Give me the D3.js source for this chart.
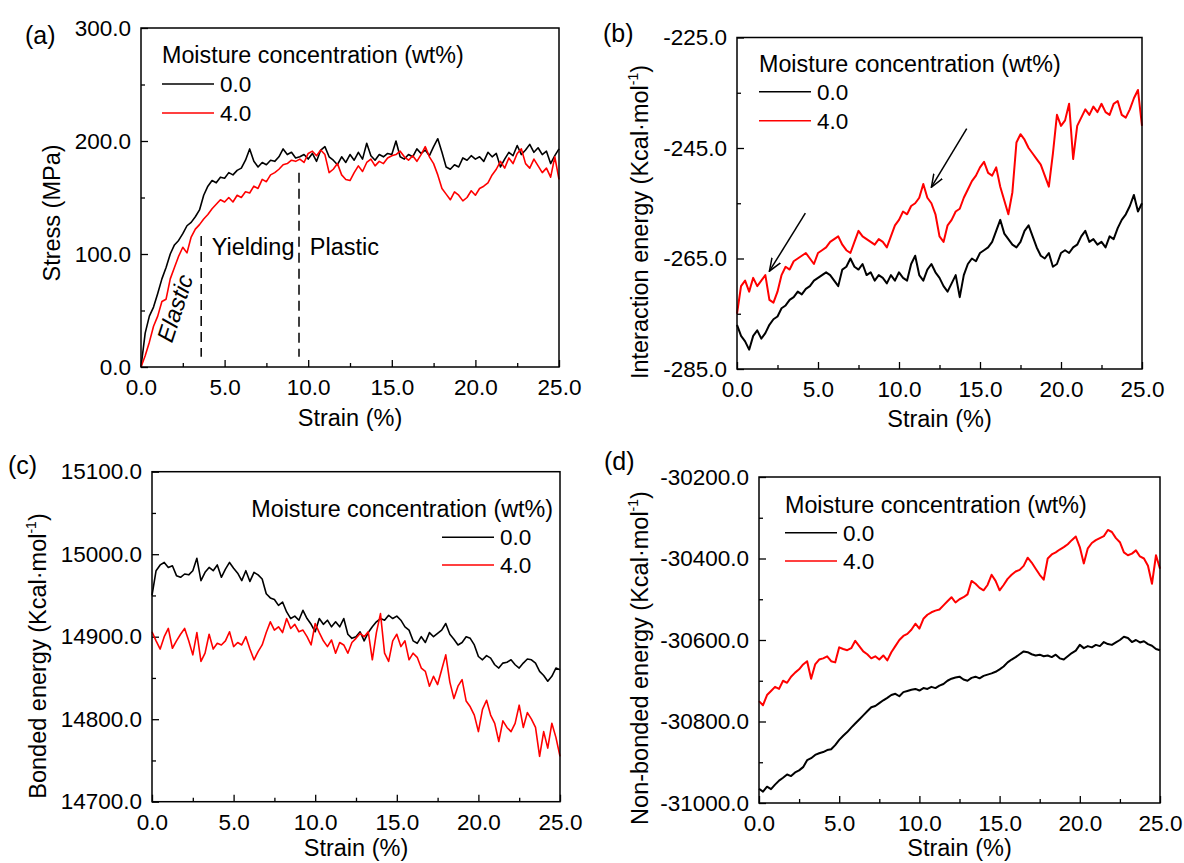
<!DOCTYPE html>
<html>
<head>
<meta charset="utf-8">
<script src="https://cdn.jsdelivr.net/npm/d3@7"></script>
<style>
  body { margin: 0; background: #fff; }
  text { font-family: Arial, "Liberation Sans", sans-serif; }
</style>
</head>
<body>
<div id="chart"></div>
<script>
// strain grid (%), one sample every 0.25
const strain = d3.range(0, 101).map((i) => i * 0.25);

// (a) stress (MPa)
const stressDry = [0, 30, 45, 53, 65, 78, 88, 100, 108, 112, 118, 125, 128, 133, 139, 152, 160, 165, 163, 168,
  167, 172, 170, 174, 176, 183, 193, 182, 177, 181, 179, 183, 182, 186, 193, 188, 190, 185, 186, 188,
  184, 189, 182, 192, 195, 186, 183, 179, 186, 181, 188, 183, 190, 184, 198, 187, 183, 188, 186, 189,
  188, 200, 186, 184, 188, 186, 193, 189, 192, 187, 195, 202, 190, 177, 175, 179, 177, 185, 183, 187,
  184, 186, 182, 190, 186, 189, 177, 184, 190, 187, 196, 188, 192, 197, 190, 194, 188, 191, 180, 187, 193];
const stressWet = [0, 10, 22, 36, 45, 58, 60, 78, 88, 98, 106, 101, 115, 122, 126, 131, 135, 140, 144, 148,
  146, 150, 146, 152, 150, 155, 154, 160, 158, 166, 164, 170, 172, 175, 179, 180, 183, 182, 184, 181,
  189, 191, 187, 192, 188, 172, 175, 180, 170, 166, 165, 172, 178, 173, 181, 184, 178, 182, 180, 185,
  187, 188, 191, 186, 183, 187, 182, 188, 195, 186, 180, 170, 158, 153, 148, 155, 152, 147, 150, 156,
  152, 158, 160, 163, 170, 175, 182, 176, 185, 180, 189, 193, 180, 176, 184, 178, 172, 176, 168, 186, 166];

// (b) interaction energy (Kcal/mol)
const interDry = [-277, -279, -280, -281.5, -279, -278, -279.5, -278.5, -277, -276, -275.5, -274, -273.5, -272.5, -272, -271, -271.5, -270.5, -270, -269,
  -268.5, -268, -267.5, -268, -269, -270, -267, -266.5, -265, -266.5, -267, -266, -268, -267.5, -269, -268, -268.5, -269.5, -268, -269,
  -267.5, -268.5, -269, -266, -264.5, -268, -269, -267, -266, -267.5, -268.5, -270, -271, -269.5, -268, -272, -268, -266, -265, -265.5,
  -264, -263.5, -263, -262, -260, -258, -260.5, -261.5, -262.5, -263, -262, -260, -259, -261, -263, -264.5, -265, -264, -266.5, -266,
  -264, -263.5, -264, -263, -262.5, -261, -260, -262, -261.5, -262.5, -262, -263, -261, -261.5, -259.5, -258, -257, -255.5, -253.5, -256.5, -255];
const interWet = [-275, -270, -269, -271, -268.5, -270, -269, -268, -272.5, -273, -271, -268, -266.5, -267, -265.5, -265, -264.5, -264, -265, -266,
  -264, -263.5, -263, -262, -261.5, -261, -262.5, -263.5, -264, -262, -260, -261, -261.5, -262, -262.5, -261.5, -262, -263, -261, -259,
  -258, -256.5, -257, -255.5, -255, -254, -251.5, -254, -255, -257, -261, -262, -259, -258, -256.5, -256, -254, -252.5, -251, -250,
  -248.5, -247.5, -249.5, -250, -248.5, -252, -254.5, -257, -253, -244, -242.5, -243.5, -245, -246, -247, -248, -250, -252, -246, -239,
  -241, -240, -237, -247, -241, -239.5, -238, -239, -237.5, -238.5, -237, -238.5, -239, -237, -236.5, -239, -239.5, -238, -236, -234.5, -241];

// (c) bonded energy (Kcal/mol)
const bondDry = [14950, 14980, 14987, 14990, 14984, 14986, 14974, 14972, 14976, 14975, 14980, 14995, 14968, 14978, 14984, 14980, 14987, 14972, 14982, 14990,
  14983, 14977, 14968, 14980, 14967, 14978, 14975, 14970, 14952, 14947, 14945, 14938, 14942, 14930, 14922, 14925, 14920, 14932, 14922, 14915,
  14906, 14922, 14915, 14920, 14912, 14918, 14912, 14922, 14903, 14898, 14900, 14906, 14895, 14905, 14912, 14918, 14922, 14920, 14926, 14922,
  14925, 14920, 14912, 14908, 14895, 14892, 14900, 14893, 14905, 14900, 14904, 14908, 14916, 14903, 14897, 14890, 14893, 14900, 14898, 14890,
  14876, 14872, 14877, 14874, 14866, 14862, 14868, 14869, 14872, 14866, 14862, 14868, 14873, 14872, 14868, 14858, 14853, 14846, 14852, 14862, 14860];
const bondWet = [14906, 14895, 14885, 14900, 14910, 14886, 14895, 14903, 14910, 14895, 14878, 14905, 14870, 14880, 14903, 14885, 14892, 14890, 14895, 14906,
  14888, 14893, 14890, 14900, 14885, 14872, 14882, 14890, 14905, 14918, 14908, 14912, 14905, 14922, 14910, 14915, 14906, 14908, 14900, 14890,
  14916, 14905, 14895, 14888, 14896, 14880, 14893, 14890, 14880, 14893, 14898, 14904, 14900, 14906, 14872, 14905, 14928, 14880, 14870, 14895,
  14903, 14888, 14895, 14872, 14880, 14875, 14862, 14858, 14840, 14852, 14842, 14860, 14878, 14845, 14825, 14840, 14848, 14822, 14815, 14805,
  14785, 14812, 14823, 14805, 14795, 14773, 14798, 14790, 14785, 14795, 14817, 14790, 14808, 14800, 14790, 14755, 14785, 14765, 14795, 14778, 14755];

// (d) non-bonded energy (Kcal/mol)
const nonbondDry = [-30965, -30972, -30960, -30966, -30955, -30945, -30938, -30930, -30934, -30925, -30920, -30912, -30895, -30890, -30882, -30878, -30875, -30870, -30868, -30858,
  -30845, -30835, -30826, -30815, -30805, -30795, -30785, -30775, -30765, -30762, -30755, -30748, -30742, -30735, -30732, -30738, -30728, -30725, -30722, -30720,
  -30724, -30718, -30720, -30715, -30718, -30712, -30708, -30700, -30695, -30692, -30690, -30697, -30700, -30693, -30690, -30694, -30688, -30685, -30682, -30678,
  -30672, -30665, -30655, -30648, -30642, -30635, -30628, -30630, -30635, -30638, -30636, -30640, -30638, -30642, -30636, -30645, -30648, -30640, -30632, -30626,
  -30612, -30620, -30615, -30618, -30612, -30615, -30605, -30610, -30612, -30606, -30600, -30592, -30595, -30605, -30600, -30606, -30603, -30610, -30614, -30622, -30625];
const nonbondWet = [-30750, -30760, -30735, -30725, -30715, -30720, -30700, -30705, -30690, -30680, -30672, -30660, -30652, -30695, -30660, -30648, -30645, -30640, -30652, -30655,
  -30618, -30622, -30625, -30620, -30602, -30615, -30628, -30635, -30645, -30640, -30648, -30638, -30650, -30630, -30615, -30600, -30590, -30585, -30575, -30560,
  -30572, -30548, -30538, -30532, -30528, -30525, -30515, -30505, -30495, -30508, -30500, -30495, -30488, -30455, -30462, -30472, -30478, -30465, -30440, -30455,
  -30478, -30465, -30450, -30440, -30432, -30428, -30418, -30398, -30410, -30425, -30440, -30452, -30400, -30390, -30385, -30378, -30372, -30365, -30355, -30346,
  -30372, -30412, -30375, -30362, -30355, -30350, -30345, -30330, -30335, -30350, -30360, -30385, -30392, -30388, -30380, -30395, -30400, -30418, -30462, -30392, -30425];

const xMajor = [0, 5, 10, 15, 20, 25];
const xMinor = [2.5, 7.5, 12.5, 17.5, 22.5];
const seriesNames = ["0.0", "4.0"];
const seriesColors = ["#000000", "#ff0000"];

const width = 1184;
const height = 863;
const fmt = (d) => d.toFixed(1);

let svg = d3
  .select("#chart")
  .append("svg")
  .attr("width", width)
  .attr("height", height)
  .style("background-color", "white");

svg
  .append("defs")
  .append("marker")
  .attr("id", "arrow")
  .attr("markerUnits", "userSpaceOnUse")
  .attr("viewBox", "0 -7 14 14")
  .attr("refX", 13)
  .attr("refY", 0)
  .attr("markerWidth", 14)
  .attr("markerHeight", 14)
  .attr("orient", "auto")
  .append("path")
  .attr("d", "M0,-5L13,0L0,5")
  .attr("fill", "none")
  .attr("stroke", "black")
  .attr("stroke-width", 1.5);

const panels = [
  {
    label: "(a)", labelX: 25, labelY: 44,
    left: 141, right: 559, top: 28, bottom: 367, lineWidth: 1.6,
    yDomain: [0, 300], yMajor: [0, 100, 200, 300], yMinor: [50, 150, 250],
    series: [stressDry, stressWet],
    yTitle: ["Stress (MPa)"], yTitleX: 52, yTitleY: 213, xTitleY: 426,
    legend: { x: 162, title: 63, rows: [84, 113], anchor: "start" },
  },
  {
    label: "(b)", labelX: 603, labelY: 42,
    left: 737, right: 1142, top: 37.5, bottom: 369, lineWidth: 2,
    yDomain: [-285, -225], yMajor: [-285, -265, -245, -225], yMinor: [-275, -255, -235],
    series: [interDry, interWet],
    yTitle: ["Interaction energy (Kcal\u00b7mol", ")"], yTitleX: 640, yTitleY: 222, xTitleY: 427,
    legend: { x: 759, title: 71.5, rows: [91.7, 120.7], anchor: "start" },
  },
  {
    label: "(c)", labelX: 8, labelY: 474,
    left: 152, right: 560, top: 471.7, bottom: 801.7, lineWidth: 1.6,
    yDomain: [14700, 15100], yMajor: [14700, 14800, 14900, 15000, 15100], yMinor: [14750, 14850, 14950, 15050],
    series: [bondDry, bondWet],
    yTitle: ["Bonded energy (Kcal\u00b7mol", ")"], yTitleX: 38, yTitleY: 656, xTitleY: 856,
    legend: { x: 442, titleEnd: 553, title: 516.5, rows: [537.3, 565], anchor: "end" },
  },
  {
    label: "(d)", labelX: 604, labelY: 470,
    left: 759, right: 1160, top: 477, bottom: 803, lineWidth: 2,
    yDomain: [-31000, -30200], yMajor: [-31000, -30800, -30600, -30400, -30200], yMinor: [-30900, -30700, -30500, -30300],
    series: [nonbondDry, nonbondWet],
    yTitle: ["Non-bonded energy (Kcal\u00b7mol", ")"], yTitleX: 640, yTitleY: 658, xTitleY: 856,
    legend: { x: 785, title: 513, rows: [532.7, 561], anchor: "start" },
  },
];

let styleAxis = (g) => {
  g.select(".domain").remove();
  g.selectAll("line").attr("stroke", "black").attr("stroke-width", 1.3);
  g.selectAll("text")
    .attr("fill", "black")
    .attr("font-size", 22.5)
    .attr("font-family", "Arial, 'Liberation Sans', sans-serif");
};

let drawPanel = (p) => {
  let x = d3.scaleLinear().domain([0, 25]).range([p.left, p.right]);
  let y = d3.scaleLinear().domain(p.yDomain).range([p.bottom, p.top]);
  let g = svg.append("g");

  // x axis, ticks pointing into the plot
  g.append("g")
    .attr("transform", "translate(0," + p.bottom + ")")
    .call(d3.axisBottom(x).tickValues(xMinor).tickSizeInner(-4).tickSizeOuter(0).tickFormat(""))
    .call(styleAxis);
  g.append("g")
    .attr("transform", "translate(0," + p.bottom + ")")
    .call(d3.axisBottom(x).tickValues(xMajor).tickSizeInner(-7).tickSizeOuter(0).tickPadding(12).tickFormat(fmt))
    .call(styleAxis);

  // y axis
  g.append("g")
    .attr("transform", "translate(" + p.left + ",0)")
    .call(d3.axisLeft(y).tickValues(p.yMinor).tickSizeInner(-4).tickSizeOuter(0).tickFormat(""))
    .call(styleAxis);
  g.append("g")
    .attr("transform", "translate(" + p.left + ",0)")
    .call(d3.axisLeft(y).tickValues(p.yMajor).tickSizeInner(-7).tickSizeOuter(0).tickPadding(10).tickFormat(fmt))
    .call(styleAxis);

  // curves
  let line = d3
    .line()
    .x((d, i) => x(strain[i]))
    .y((d) => y(d));
  p.series.forEach((s, k) => {
    g.append("path")
      .datum(s)
      .attr("d", line)
      .attr("fill", "none")
      .attr("stroke", seriesColors[k])
      .attr("stroke-width", p.lineWidth)
      .attr("stroke-linejoin", "round");
  });

  // frame
  g.append("rect")
    .attr("x", p.left)
    .attr("y", p.top)
    .attr("width", p.right - p.left)
    .attr("height", p.bottom - p.top)
    .attr("fill", "none")
    .attr("stroke", "black")
    .attr("stroke-width", 1.5);

  // axis titles
  g.append("text")
    .attr("x", (p.left + p.right) / 2)
    .attr("y", p.xTitleY)
    .attr("text-anchor", "middle")
    .attr("font-size", 23.5)
    .text("Strain (%)");

  let yt = g
    .append("text")
    .attr("transform", "translate(" + p.yTitleX + "," + p.yTitleY + ") rotate(-90)")
    .attr("text-anchor", "middle")
    .attr("dy", "0.35em")
    .attr("font-size", 23.5);
  yt.append("tspan").text(p.yTitle[0]);
  if (p.yTitle.length > 1) {
    yt.append("tspan").attr("font-size", 14).attr("dy", "-0.75em").text("-1");
    yt.append("tspan").attr("dy", "0.45em").text(p.yTitle[1]);
  }

  // panel letter
  g.append("text")
    .attr("x", p.labelX)
    .attr("y", p.labelY)
    .attr("font-size", 25)
    .text(p.label);

  // legend
  let lg = p.legend;
  g.append("text")
    .attr("x", lg.anchor === "end" ? lg.titleEnd : lg.x)
    .attr("y", lg.title)
    .attr("text-anchor", lg.anchor)
    .attr("font-size", 23.3)
    .text("Moisture concentration (wt%)");
  lg.rows.forEach((ry, k) => {
    g.append("line")
      .attr("x1", lg.x)
      .attr("x2", lg.x + 52)
      .attr("y1", ry)
      .attr("y2", ry)
      .attr("stroke", seriesColors[k])
      .attr("stroke-width", 1.6);
    g.append("text")
      .attr("x", lg.x + 58)
      .attr("y", ry)
      .attr("dy", "0.36em")
      .attr("font-size", 22.5)
      .text(seriesNames[k]);
  });

  return { g, x, y };
};

let drawn = panels.map(drawPanel);

// (a) deformation stages
const stageStrain = [3.6, 9.45];
const stageTop = [116, 172];
let pa = drawn[0];
stageStrain.forEach((s, i) => {
  pa.g.append("line")
    .attr("x1", pa.x(s))
    .attr("x2", pa.x(s))
    .attr("y1", pa.y(stageTop[i]))
    .attr("y2", pa.y(9))
    .attr("stroke", "black")
    .attr("stroke-width", 1.5)
    .attr("stroke-dasharray", "10,6");
});
pa.g.append("text")
  .attr("transform", "translate(" + pa.x(2.03) + "," + pa.y(52) + ") rotate(-72)")
  .attr("text-anchor", "middle")
  .attr("dy", "0.35em")
  .attr("font-size", 23.5)
  .attr("font-style", "italic")
  .text("Elastic");
pa.g.append("text").attr("x", pa.x(4.23)).attr("y", pa.y(99)).attr("font-size", 23.5).text("Yielding");
pa.g.append("text").attr("x", pa.x(10.1)).attr("y", pa.y(99)).attr("font-size", 23.5).text("Plastic");

// (b) arrows
const arrowFrom = [[4.22, -256.8], [14.18, -241.5]];
const arrowTo = [[2.0, -267.3], [12.0, -252.1]];
let pb = drawn[1];
arrowFrom.forEach((a, i) => {
  pb.g.append("line")
    .attr("x1", pb.x(a[0]))
    .attr("y1", pb.y(a[1]))
    .attr("x2", pb.x(arrowTo[i][0]))
    .attr("y2", pb.y(arrowTo[i][1]))
    .attr("stroke", "black")
    .attr("stroke-width", 1.5)
    .attr("marker-end", "url(#arrow)");
});
</script>
</body>
</html>
